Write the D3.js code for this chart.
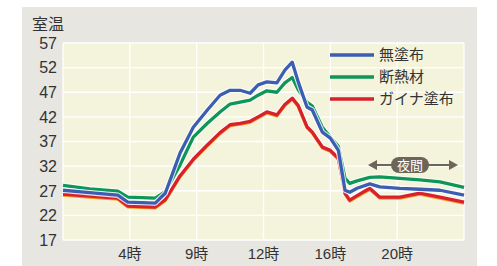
<!DOCTYPE html>
<html>
<head>
<meta charset="utf-8">
<script src="https://cdn.jsdelivr.net/npm/d3@7"></script>
<style>
body{margin:0;background:#fff;}
text{font-family:"Liberation Sans","Noto Sans CJK JP",sans-serif;}
</style>
</head>
<body>
<svg id="screen" width="497" height="266"></svg>
<script>
// x positions are in grid units (one unit = one vertical grid cell)
var t = [0,0.40,0.82,0.97,1.38,1.53,1.75,1.95,2.16,2.35,2.50,2.65,2.80,2.92,3.05,3.20,3.32,3.43,3.52,3.65,3.73,3.88,4.00,4.12,4.22,4.29,4.40,4.59,4.74,5.04,5.34,5.64,6.0];
var mutofu  = [27.1,26.6,26.1,24.7,24.5,26.5,34.6,39.9,43.4,46.4,47.4,47.4,46.8,48.5,49.1,48.9,51.5,53.1,49.1,44.0,43.4,38.9,37.7,35.2,27.1,26.7,27.5,28.4,27.8,27.5,27.3,27.1,26.1];
var dannetsu= [28.1,27.4,26.9,25.7,25.5,26.8,32.2,37.9,40.7,43.0,44.6,45.0,45.4,46.4,47.3,47.0,48.9,50.0,47.5,45.0,44.2,39.9,37.9,36.0,29.5,28.5,29.0,29.7,29.8,29.5,29.2,28.8,27.7];
var gaina   = [26.3,25.9,25.5,23.9,23.7,25.2,30.0,33.4,36.3,38.8,40.4,40.7,41.1,42.0,43.0,42.4,44.5,45.8,44.3,40.0,38.9,35.9,35.2,33.6,26.5,25.1,26.0,27.5,25.7,25.7,26.5,25.7,24.7];
var seriesNames = ["無塗布","断熱材","ガイナ塗布"];
var seriesColors = ["#3b5eb3","#0e9558","#d9212e"];
var xTickPos = [1,2,3,4,5];
var xTickLabels = ["4時","9時","12時","16時","20時"];
var yTicks = [17,22,27,32,37,42,47,52,57];

var svg = d3.select("#screen");
var pLeft = 63, pRight = 464, pTop = 43, pBottom = 240;

// outer panel
svg.append("rect").attr("x",22).attr("y",7).attr("width",455).attr("height",259).attr("fill","#e7e6e1");
svg.append("rect").attr("x",pLeft).attr("y",pTop).attr("width",pRight-pLeft).attr("height",pBottom-pTop).attr("fill","#f4f4dc");

var x = d3.scaleLinear().domain([0,6]).range([pLeft,pRight]);
var y = d3.scaleLinear().domain([17,57]).range([pBottom,pTop]);

// grid
svg.append("g").selectAll("line").data(yTicks).enter().append("line")
  .attr("x1",pLeft).attr("x2",pRight)
  .attr("y1",function(d){return y(d);}).attr("y2",function(d){return y(d);})
  .attr("stroke","#fff").attr("stroke-width",1.3);
svg.append("g").selectAll("line").data(d3.range(0,7)).enter().append("line")
  .attr("x1",function(d){return x(d);}).attr("x2",function(d){return x(d);})
  .attr("y1",pTop).attr("y2",pBottom)
  .attr("stroke","#fff").attr("stroke-width",1.3);

// y labels
svg.append("g").selectAll("text").data(yTicks).enter().append("text")
  .attr("x",57).attr("y",function(d){return y(d);}).attr("dy","0.36em")
  .attr("text-anchor","end").attr("font-size",16).attr("fill","#333")
  .text(function(d){return d;});
svg.append("text").attr("x",32).attr("y",30).attr("font-size",16).attr("fill","#333").text("室温");

// x labels
svg.append("g").selectAll("text").data(xTickPos).enter().append("text")
  .attr("x",function(d){return x(d);}).attr("y",259)
  .attr("text-anchor","middle").attr("font-size",15).attr("fill","#333")
  .text(function(d,i){return xTickLabels[i];});

// lines
var allSeries = [mutofu,dannetsu,gaina];
var line = d3.line().x(function(d,i){return x(t[i]);}).y(function(d){return y(d);});
var order = [2,1,0];
order.forEach(function(k){
  svg.append("path").datum(allSeries[k]).attr("d",line).attr("fill","none")
    .attr("stroke","#fff").attr("stroke-opacity",0.8).attr("stroke-width",5.5).attr("stroke-linejoin","round");
  if(k==2){
    svg.append("path").datum(allSeries[k]).attr("d",line).attr("fill","none")
      .attr("transform","translate(0,1)")
      .attr("stroke","#f09a20").attr("stroke-width",3.2).attr("stroke-linejoin","round");
  }
  svg.append("path").datum(allSeries[k]).attr("d",line).attr("fill","none")
    .attr("stroke",seriesColors[k]).attr("stroke-width",3.3).attr("stroke-linejoin","round");
});

// legend
var lg = svg.append("g").selectAll("g").data(seriesNames).enter().append("g")
  .attr("transform",function(d,i){return "translate(330,"+(55+i*22)+")";});
lg.append("line").attr("x1",0).attr("x2",44).attr("stroke",function(d,i){return seriesColors[i];}).attr("stroke-width",3.5);
lg.append("text").attr("x",49).attr("dy","0.36em").attr("font-size",15).attr("fill","#333").text(function(d){return d;});

// 夜間 annotation
var ax1 = 368, ax2 = 458, ay = 165, cgray = "#6d6557";
svg.append("line").attr("x1",ax1+6).attr("x2",ax2-6).attr("y1",ay).attr("y2",ay).attr("stroke",cgray).attr("stroke-width",2);
svg.append("path").attr("d","M"+ax1+","+ay+"l9,-5v10z").attr("fill",cgray);
svg.append("path").attr("d","M"+ax2+","+ay+"l-9,-5v10z").attr("fill",cgray);
svg.append("rect").attr("x",391).attr("y",ay-8).attr("width",38).attr("height",16).attr("rx",8).attr("fill",cgray);
svg.append("text").attr("x",410).attr("y",ay).attr("dy","0.36em").attr("text-anchor","middle").attr("font-size",13).attr("fill","#fff").text("夜間");
</script>
</body>
</html>
